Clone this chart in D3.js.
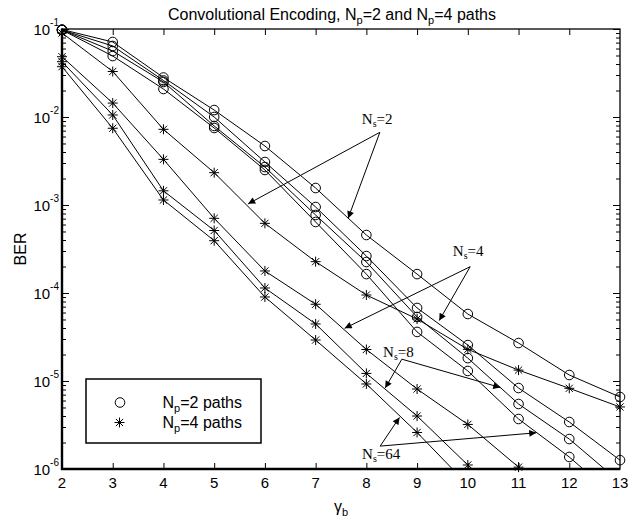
<!DOCTYPE html>
<html>
<head>
<meta charset="utf-8">
<script src="https://cdn.jsdelivr.net/npm/d3@7"></script>
<style>
body { margin: 0; background: #fff; }
text { font-family: "Liberation Sans", Arial, sans-serif; fill: #000; }
</style>
</head>
<body>
<script>
// gamma_b values (x axis)
var gammaB = [2, 3, 4, 5, 6, 7, 8, 9, 10, 11, 12, 13];

// Np=2 paths (circles), one array per Ns
var np2_ns2  = [0.0987, 0.0712, 0.0281, 0.0120, 0.00468, 0.00156, 4.56e-4, 1.64e-4, 5.77e-5, 2.70e-5, 1.17e-5, 6.58e-6];
var np2_ns4  = [0.0974, 0.0641, 0.0260, 0.0100, 0.00308, 9.49e-4, 2.63e-4, 6.76e-5, 2.56e-5, 8.32e-6, 3.42e-6, 1.26e-6];
var np2_ns8  = [0.0974, 0.0562, 0.0250, 0.00791, 0.00270, 7.70e-4, 2.25e-4, 5.34e-5, 1.82e-5, 5.48e-6, 2.19e-6, 7.1e-7];
var np2_ns64 = [0.0974, 0.0493, 0.0208, 0.0075, 0.0025, 6.41e-4, 1.64e-4, 3.61e-5, 1.30e-5, 3.70e-6, 1.37e-6, 4.33e-7];

// Np=4 paths (stars)
var np4_ns2  = [0.0901, 0.0329, 0.00724, 0.00233, 6.19e-4, 2.27e-4, 9.49e-5, 5.07e-5, 2.29e-5, 1.33e-5, 8.26e-6, 5.07e-6];
var np4_ns4  = [0.0484, 0.0144, 0.00330, 7.06e-4, 1.78e-4, 7.45e-5, 2.28e-5, 8.11e-6, 3.21e-6, 1.05e-6, 3.5e-7];
var np4_ns8  = [0.0425, 0.01054, 0.00145, 5.13e-4, 1.14e-4, 4.45e-5, 1.22e-5, 4.00e-6, 1.11e-6, 3.4e-7];
var np4_ns64 = [0.0373, 0.00745, 0.00114, 3.93e-4, 9.01e-5, 2.92e-5, 9.25e-6, 2.60e-6, 6.6e-7];

var xTicks = [2, 3, 4, 5, 6, 7, 8, 9, 10, 11, 12, 13];
var yExps = [-1, -2, -3, -4, -5, -6];

// Ns annotations, in data units: label position, arrow start, two arrow tips
var annNs     = ["2", "4", "8", "64"];
var annTextX  = [8.213, 10.008, 8.633, 8.292];
var annTextY  = [8.33e-3, 2.63e-4, 1.87e-5, 1.30e-6];
var annFromX  = [8.266, 10.047, 8.700, 8.272];
var annFromY  = [6.70e-3, 1.99e-4, 1.77e-5, 1.82e-6];
var annTipAX  = [5.669, 7.572, 8.371, 8.653];
var annTipAY  = [1.03e-3, 3.97e-5, 8.32e-6, 3.86e-6];
var annTipBX  = [7.641, 9.436, 10.639, 11.349];
var annTipBY  = [7.07e-4, 4.86e-5, 8.44e-6, 2.58e-6];

var width = 637, height = 521;
var L = 62, R = 620, T = 29, B = 469;

var svg = d3.select("body").append("svg")
  .attr("width", width).attr("height", height);

var x = d3.scaleLinear().domain([2, 13]).range([L, R]);
var y = d3.scaleLog().domain([1e-6, 1e-1]).range([B, T]);

svg.append("clipPath").attr("id", "plotClip")
  .append("rect").attr("x", L).attr("y", T).attr("width", R - L).attr("height", B - T);

var arrowDef = svg.append("defs").append("marker")
  .attr("id", "arrowHead")
  .attr("viewBox", "0 0 10 10")
  .attr("refX", 10).attr("refY", 5)
  .attr("markerWidth", 8).attr("markerHeight", 7)
  .attr("markerUnits", "userSpaceOnUse")
  .attr("orient", "auto");
arrowDef.append("path").attr("d", "M0,0 L10,5 L0,10 Z").attr("fill", "#000");

// axes, ticks inward
var minorVals = [];
for (var e = -6; e <= -2; e++) {
  for (var k = 2; k <= 9; k++) minorVals.push(k * Math.pow(10, e));
}
var majorVals = yExps.map(function(p){ return Math.pow(10, p); });

function styleAxis(g) {
  g.select(".domain").remove();
  g.selectAll(".tick line").attr("stroke", "#000").attr("stroke-width", 1);
}

svg.append("g").attr("transform", "translate(" + L + ",0)")
  .call(d3.axisRight(y).tickValues(minorVals).tickSize(4).tickFormat(""))
  .call(styleAxis);
svg.append("g").attr("transform", "translate(" + R + ",0)")
  .call(d3.axisLeft(y).tickValues(minorVals).tickSize(4).tickFormat(""))
  .call(styleAxis);
svg.append("g").attr("transform", "translate(" + R + ",0)")
  .call(d3.axisLeft(y).tickValues(majorVals).tickSize(7).tickFormat(""))
  .call(styleAxis);

var yAxisG = svg.append("g").attr("transform", "translate(" + L + ",0)")
  .call(d3.axisRight(y).tickValues(majorVals).tickSize(7).tickFormat(""))
  .call(styleAxis);
yAxisG.selectAll(".tick").each(function(d){
  var t = d3.select(this).append("text")
    .attr("x", -3).attr("y", 5)
    .attr("text-anchor", "end")
    .style("font-size", "15px");
  t.append("tspan").text("10");
  t.append("tspan").attr("dy", -9).style("font-size", "10px").text(Math.round(Math.log10(d)));
});

var xInner = xTicks.slice(1, -1);
svg.append("g").attr("transform", "translate(0," + B + ")")
  .call(d3.axisTop(x).tickValues(xInner).tickSize(6).tickFormat(""))
  .call(styleAxis);
svg.append("g").attr("transform", "translate(0," + T + ")")
  .call(d3.axisBottom(x).tickValues(xInner).tickSize(6).tickFormat(""))
  .call(styleAxis);

svg.append("g").selectAll("text").data(xTicks).enter().append("text")
  .attr("x", function(d){ return x(d); })
  .attr("y", B + 19)
  .attr("text-anchor", "middle")
  .style("font-size", "15px")
  .text(function(d){ return d; });

// frame
svg.append("rect").attr("x", L).attr("y", T).attr("width", R - L).attr("height", B - T)
  .attr("fill", "none").attr("stroke", "#000").attr("stroke-width", 1.3);
svg.append("line").attr("x1", L).attr("x2", L).attr("y1", T).attr("y2", B + 1)
  .attr("stroke", "#000").attr("stroke-width", 2.4);
svg.append("line").attr("x1", L - 1).attr("x2", R).attr("y1", B).attr("y2", B)
  .attr("stroke", "#000").attr("stroke-width", 2.4);

// curves
var circleSeries = [np2_ns2, np2_ns4, np2_ns8, np2_ns64];
var starSeries = [np4_ns2, np4_ns4, np4_ns8, np4_ns64];

function toPoints(vals) {
  return vals.map(function(v, i){ return {g: gammaB[i], v: v}; });
}

var line = d3.line()
  .x(function(d){ return x(d.g); })
  .y(function(d){ return y(d.v); });

var curveG = svg.append("g").attr("clip-path", "url(#plotClip)");
circleSeries.concat(starSeries).forEach(function(s){
  curveG.append("path").datum(toPoints(s))
    .attr("d", line)
    .attr("fill", "none").attr("stroke", "#000").attr("stroke-width", 1);
});

var starPath = "M-5,0L5,0M0,-5L0,5M-3.6,-3.6L3.6,3.6M-3.6,3.6L3.6,-3.6";

circleSeries.forEach(function(s){
  svg.append("g").selectAll("circle")
    .data(toPoints(s).filter(function(d){ return d.v >= 1e-6; }))
    .enter().append("circle")
    .attr("cx", function(d){ return x(d.g); })
    .attr("cy", function(d){ return y(d.v); })
    .attr("r", 4.8)
    .attr("fill", "none").attr("stroke", "#000").attr("stroke-width", 1);
});
starSeries.forEach(function(s){
  svg.append("g").selectAll("path")
    .data(toPoints(s).filter(function(d){ return d.v >= 1e-6; }))
    .enter().append("path")
    .attr("transform", function(d){ return "translate(" + x(d.g) + "," + y(d.v) + ")"; })
    .attr("d", starPath)
    .attr("stroke", "#000").attr("stroke-width", 1);
});

// Ns annotations
annNs.forEach(function(n, i){
  var fx = x(annFromX[i]), fy = y(annFromY[i]);
  [[annTipAX[i], annTipAY[i]], [annTipBX[i], annTipBY[i]]].forEach(function(tp){
    svg.append("line")
      .attr("x1", fx).attr("y1", fy)
      .attr("x2", x(tp[0])).attr("y2", y(tp[1]))
      .attr("stroke", "#000").attr("stroke-width", 1)
      .attr("marker-end", "url(#arrowHead)");
  });
  var t = svg.append("text")
    .attr("x", x(annTextX[i])).attr("y", y(annTextY[i]))
    .attr("text-anchor", "middle")
    .style("font-family", "'Liberation Serif', 'Times New Roman', serif")
    .style("font-size", "15px");
  t.append("tspan").text("N");
  t.append("tspan").attr("dy", 3).style("font-size", "10px").text("s");
  t.append("tspan").attr("dy", -3).text("=" + n);
});

// legend
var lg = svg.append("g");
lg.append("rect").attr("x", 86).attr("y", 379).attr("width", 175).attr("height", 64)
  .attr("fill", "#fff").attr("stroke", "#000").attr("stroke-width", 1.5);
lg.append("circle").attr("cx", 120).attr("cy", 402.5).attr("r", 4.8)
  .attr("fill", "none").attr("stroke", "#000");
lg.append("path").attr("transform", "translate(119.5,422.5)").attr("d", starPath)
  .attr("stroke", "#000");
["2", "4"].forEach(function(n, i){
  var t = lg.append("text").attr("x", 162.5).attr("y", 408 + i * 20)
    .style("font-size", "16px");
  t.append("tspan").text("N");
  t.append("tspan").attr("dy", 4).style("font-size", "11px").text("p");
  t.append("tspan").attr("dy", -4).text("=" + n + " paths");
});

// title and axis labels
var title = svg.append("text").attr("x", 332).attr("y", 20)
  .attr("text-anchor", "middle").style("font-size", "16px");
title.append("tspan").text("Convolutional Encoding, N");
title.append("tspan").attr("dy", 4).style("font-size", "11px").text("p");
title.append("tspan").attr("dy", -4).text("=2 and N");
title.append("tspan").attr("dy", 4).style("font-size", "11px").text("p");
title.append("tspan").attr("dy", -4).text("=4 paths");

svg.append("text")
  .attr("transform", "translate(26," + ((T + B) / 2) + ") rotate(-90)")
  .attr("text-anchor", "middle").style("font-size", "16px").text("BER");

var xl = svg.append("text").attr("x", (L + R) / 2).attr("y", 512)
  .attr("text-anchor", "middle").style("font-size", "16px");
xl.append("tspan").text("γ");
xl.append("tspan").attr("dy", 4).style("font-size", "11px").text("b");
</script>
</body>
</html>
